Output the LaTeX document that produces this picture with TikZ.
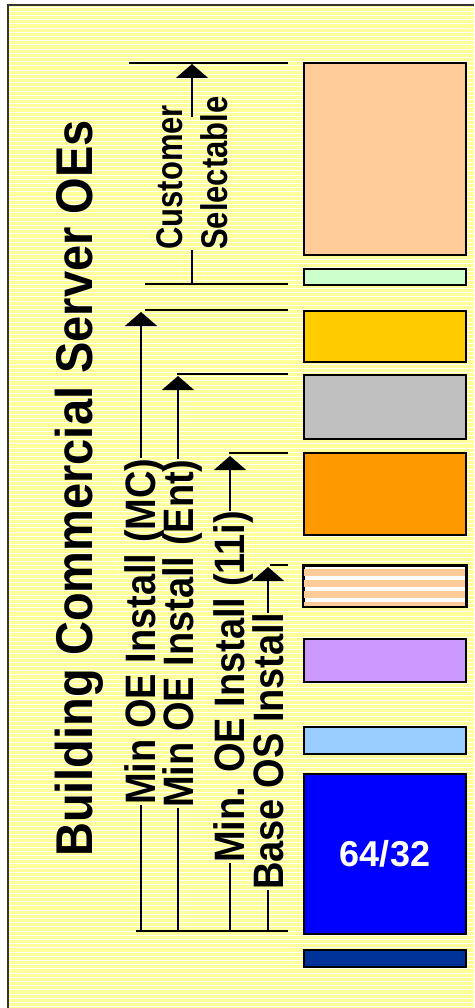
\documentclass[tikz,border=0pt]{standalone}
\usepackage{fontspec}
\setmainfont{Liberation Sans}
\usepackage{tikz}
\usetikzlibrary{arrows.meta,positioning,calc}

\definecolor{paper}{HTML}{FFFF99}
\definecolor{peach}{HTML}{FFCC99}
\definecolor{mint}{HTML}{CCFFCC}
\definecolor{gold}{HTML}{FFCC00}
\definecolor{silver}{HTML}{C0C0C0}
\definecolor{amber}{HTML}{FF9900}
\definecolor{lilac}{HTML}{CC99FF}
\definecolor{sky}{HTML}{99CCFF}
\definecolor{royal}{HTML}{0000FF}
\definecolor{navy}{HTML}{003399}

\begin{document}
\begin{tikzpicture}[x=1pt,y=-1pt,
    layer/.style={draw=black,line width=2pt,minimum width=162pt,inner sep=0pt,anchor=north west},
    tag/.style={rotate=90,yscale=1.12,anchor=base west,inner sep=0pt,font=\bfseries\fontsize{38}{40}\selectfont},
    guide/.style={line width=2pt},
    rise/.style={line width=2pt,-{Triangle[width=32pt,length=14pt]}}]
        \useasboundingbox (0,0) rectangle (474,1008);

        % striped paper
        \fill[paper] (8,5) rectangle (474,1008);
        \foreach \s in {0,...,238}
            \draw[white,line width=0.9pt] (9,{7+4.2*\s}) -- (474,{7+4.2*\s});
        \draw[line width=2pt,black!80] (8,1008) -- (8,5) -- (474,5);

        % layers
        \node[layer,fill=peach,minimum height=192pt] (custom) at (303,62) {};
        \node[layer,fill=mint,minimum height=16pt] (extra) at (303,268) {};
        \node[layer,fill=gold,minimum height=51pt] (mc) at (303,310) {};
        \node[layer,fill=silver,minimum height=64pt] (ent) at (303,374) {};
        \node[layer,fill=amber,minimum height=82pt] (oracle) at (303,452) {};
        \node[layer,fill=white,minimum height=40pt] (patch) at (303,565) {};
        \node[layer,fill=lilac,minimum height=43pt] (tools) at (303,638) {};
        \node[layer,fill=sky,minimum height=27pt] (core) at (303,726) {};
        \node[layer,fill=royal,minimum height=160pt,text=white,
              font=\bfseries\fontsize{36}{38}\selectfont] (os) at (303,773) {64/32};
        \node[layer,fill=navy,minimum height=17pt] (fw) at (303,949) {};

        \begin{scope}
            \clip (patch.south west) rectangle (patch.north east);
            \foreach \k in {0,...,3}
                \fill[peach] ($(patch.north west)+(0,4+11*\k)$) rectangle +(162,7);
        \end{scope}
        \draw[line width=2pt] (patch.south west) rectangle (patch.north east);

        % guide lines
        \foreach \y/\x [count=\i] in {63/129,284/145,310/145,374/177,453/229,565/270,931/136} {
            \coordinate (g\i a) at (\x,\y);
            \coordinate (g\i b) at (288,\y);
            \draw[guide] (g\i a) -- (g\i b);
        }

        % title
        \node[rotate=90,yscale=1.1,anchor=base west,inner sep=0pt,
              font=\bfseries\fontsize{47}{50}\selectfont] (title) at (92,857) {Building Commercial Server OEs};

        % customer selectable
        \coordinate (cstip) at (192,64);
        \coordinate (cstop) at (192,117);
        \node[tag,yscale=1.07,font=\bfseries\fontsize{31}{33}\selectfont] (cust) at (182,250) {Customer};
        \node[tag,yscale=1.07,font=\bfseries\fontsize{31}{33}\selectfont] (sel) at (227,250) {Selectable};
        \draw[rise] (cstop) -- (cstip);
        \draw[guide] (cstip |- cust.west) -- (cstip |- g2a);

        % install levels
        \coordinate (mctip) at (141,312);
        \coordinate (enttip) at (178,376);
        \coordinate (oratip) at (230,456);
        \coordinate (ostip) at (268,567);

        \node[tag] (lmc) at (155,805) {Min OE Install (MC)};
        \node[tag] (lent) at (193,808) {Min OE Install (Ent)};
        \node[tag] (lora) at (244,863) {Min. OE Install (11i)};
        \node[tag] (los) at (283,890) {Base OS Install};

        \draw[rise] (mctip |- lmc.east) -- (mctip);
        \draw[rise] (enttip |- lent.east) -- (enttip);
        \draw[rise] (oratip |- lora.east) -- (oratip);
        \draw[rise] (ostip |- los.east) -- (ostip);

        \draw[guide] (mctip |- lmc.west) -- (mctip |- g7a);
        \draw[guide] (enttip |- lent.west) -- (enttip |- g7a);
        \draw[guide] (oratip |- lora.west) -- (oratip |- g7a);
        \draw[guide] (ostip |- los.west) -- (ostip |- g7a);
\end{tikzpicture}
\end{document}
